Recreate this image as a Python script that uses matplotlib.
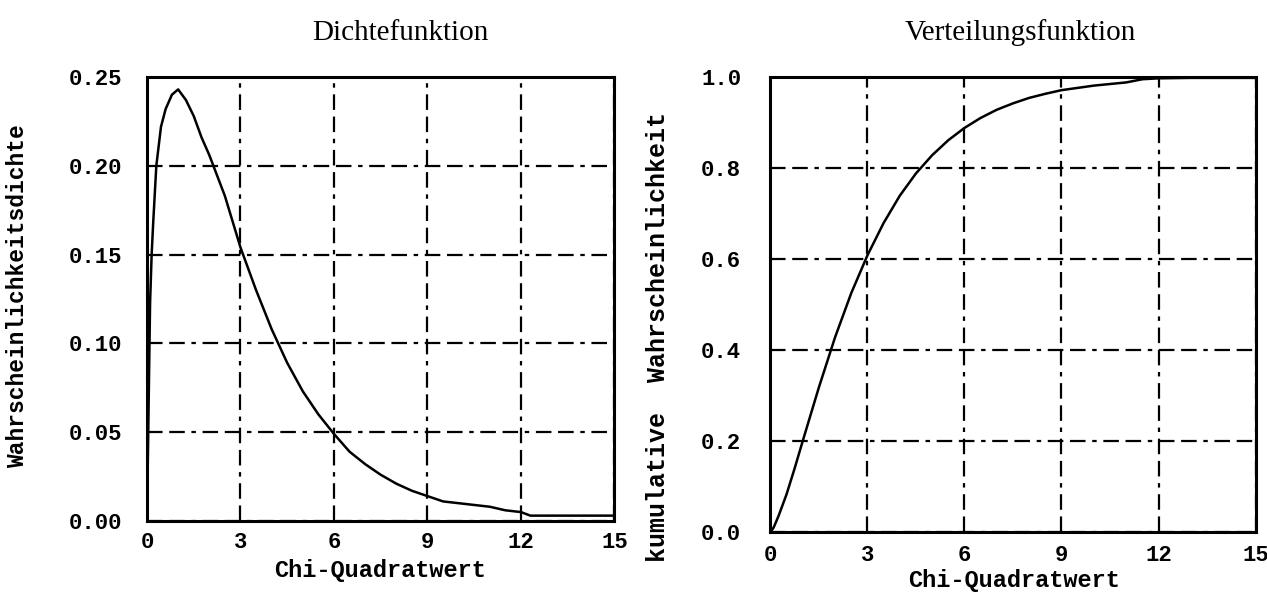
import numpy as np
import matplotlib.pyplot as plt

# Dichtefunktion
x_dichte = [0.0, 0.1, 0.15, 0.2, 0.3, 0.45, 0.6, 0.8, 1.0, 1.25, 1.5, 1.75, 2.0, 2.5, 3.0,
            3.5, 4.0, 4.5, 5.0, 5.5, 6.0, 6.5, 7.0, 7.5, 8.0, 8.5, 9.0, 9.5, 10.0,
            10.5, 11.0, 11.5, 12.0, 12.3, 13.0, 14.0, 15.0]
y_dichte = [0.0, 0.123, 0.150, 0.168, 0.200, 0.222, 0.232, 0.240, 0.243, 0.237, 0.228, 0.216,
            0.206, 0.183, 0.154, 0.130, 0.108, 0.089, 0.073, 0.060, 0.049, 0.039, 0.032,
            0.026, 0.021, 0.017, 0.014, 0.011, 0.010, 0.009, 0.008, 0.006, 0.005, 0.003,
            0.003, 0.003, 0.003]

# Verteilungsfunktion
x_vert = [0.0, 0.1, 0.25, 0.5, 0.75, 1.0, 1.5, 2.0, 2.5, 3.0, 3.5, 4.0, 4.5, 5.0, 5.5,
          6.0, 6.5, 7.0, 7.5, 8.0, 8.5, 9.0, 10.0, 11.0, 11.5, 12.0, 13.0, 15.0]
y_vert = [0.0, 0.01, 0.035, 0.083, 0.140, 0.200, 0.318, 0.428, 0.525, 0.608, 0.679, 0.739,
          0.788, 0.828, 0.861, 0.888, 0.910, 0.928, 0.942, 0.954, 0.963, 0.971, 0.981,
          0.988, 0.995, 0.997, 0.998, 0.998]

xticks = [0, 3, 6, 9, 12, 15]
yticks_dichte = [0.00, 0.05, 0.10, 0.15, 0.20, 0.25]
yticks_vert = [0.0, 0.2, 0.4, 0.6, 0.8, 1.0]

mono = 'Liberation Mono'
grid_dash = (0, (7, 3, 7, 3, 2, 3))

fig = plt.figure(figsize=(12.67, 5.92), dpi=100)

def style_axes(ax, yticks, yfmt, pad_x, pad_y):
    ax.set_xlim(0, 15)
    ax.set_ylim(yticks[0], yticks[-1])
    ax.set_xticks(xticks)
    ax.set_yticks(yticks)
    ax.set_xticklabels([str(t) for t in xticks], fontfamily=mono, fontweight='bold', fontsize=16)
    ax.set_yticklabels([yfmt % t for t in yticks], fontfamily=mono, fontweight='bold', fontsize=16)
    ax.tick_params(length=0)
    ax.tick_params(axis='x', pad=pad_x)
    ax.tick_params(axis='y', pad=pad_y)
    ax.grid(True, color='black', linewidth=1.6, linestyle=grid_dash)
    for s in ax.spines.values():
        s.set_linewidth(2.2)

ax1 = fig.add_axes([0.116, 0.120, 0.369, 0.750])
ax1.plot(x_dichte, y_dichte, color='black', linewidth=1.8)
style_axes(ax1, yticks_dichte, '%.2f', 8, 18)

ax2 = fig.add_axes([0.608, 0.101, 0.383, 0.769])
ax2.plot(x_vert, y_vert, color='black', linewidth=1.8)
style_axes(ax2, yticks_vert, '%.1f', 9, 21)

lab = dict(fontfamily=mono, fontweight='bold', fontsize=17, ha='center', va='center')
fig.text(0.300, 1 - 570 / 592, 'Chi-Quadratwert', **lab)
fig.text(0.800, 1 - 580 / 592, 'Chi-Quadratwert', **lab)
fig.text(0.014, 0.500, 'Wahrscheinlichkeitsdichte', rotation=90, **dict(lab, fontsize=16.5))
fig.text(0.519, 0.431, 'kumulative  Wahrscheinlichkeit', rotation=90, **dict(lab, fontsize=18))

fig.text(0.316, 0.945, 'Dichtefunktion', fontfamily='Liberation Serif', fontsize=21, ha='center', va='center')
fig.text(0.805, 0.945, 'Verteilungsfunktion', fontfamily='Liberation Serif', fontsize=21, ha='center', va='center')

fig.savefig('out.png', dpi=100)
